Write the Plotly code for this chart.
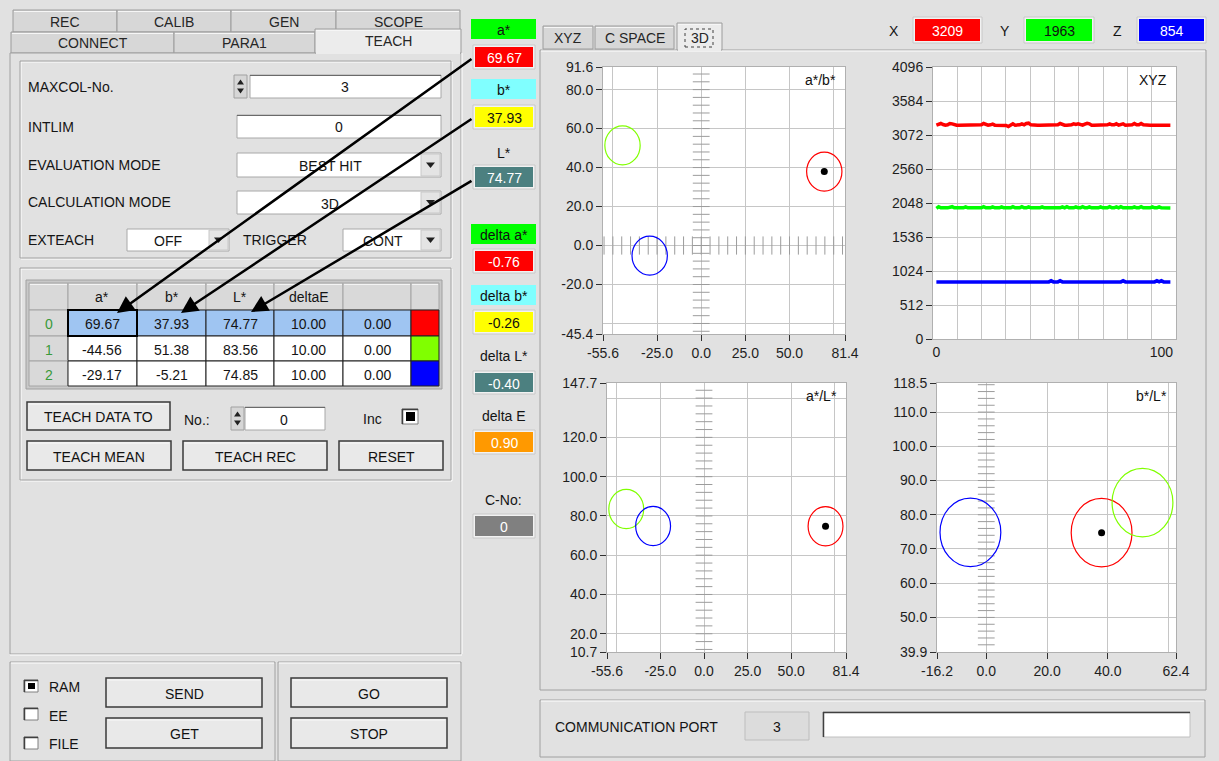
import numpy as np
import plotly.graph_objects as go

W, H = 1219, 761
FONT = "Liberation Sans, Arial, sans-serif"
BG = "#e1e1e1"

# ---------------- data ----------------
teach_no = ["0", "1", "2"]
teach_a = [69.67, -44.56, -29.17]
teach_b = [37.93, 51.38, -5.21]
teach_L = [74.77, 83.56, 74.85]
teach_dE = [10.00, 10.00, 10.00]
teach_extra = [0.00, 0.00, 0.00]
teach_colors = ["#ff0000", "#80ff00", "#0000ff"]
table_headers = ["", "a*", "b*", "L*", "deltaE", "", ""]

cur_a, cur_b, cur_L = 69.67, 37.93, 74.77
delta_a, delta_b, delta_L, delta_E = -0.76, -0.26, -0.40, 0.90
c_no = 0
X_now, Y_now, Z_now = 3209, 1963, 854

xyz_X = [3220, 3240, 3245, 3230, 3220, 3225, 3245, 3240, 3225, 3220,
         3220, 3220, 3220, 3220, 3220, 3220, 3220, 3220, 3220, 3220,
         3225, 3245, 3225, 3220, 3225, 3235, 3220, 3220, 3220, 3220,
         3220, 3215, 3200, 3220, 3240, 3220, 3220, 3225, 3240, 3225,
         3245, 3250, 3225, 3220, 3220, 3220, 3220, 3220, 3220, 3220,
         3220, 3220, 3220, 3220, 3225, 3245, 3225, 3220, 3220, 3220,
         3225, 3240, 3230, 3240, 3225, 3220, 3235, 3248, 3240, 3220,
         3220, 3220, 3220, 3220, 3220, 3220, 3225, 3240, 3225, 3225,
         3240, 3220, 3225, 3240, 3220, 3220, 3220, 3225, 3245, 3225,
         3225, 3245, 3225, 3220, 3220, 3220, 3220, 3220, 3220, 3220,
         3220, 3215, 3220, 3220, 3220]
xyz_Y = [1968, 1992, 1975, 1970, 1975, 1975, 1990, 1992, 1975, 1975,
         1975, 1975, 1975, 1990, 1975, 1975, 1975, 1975, 1975, 1975,
         1975, 1992, 1975, 1975, 1975, 1990, 1975, 1975, 1975, 1990,
         1975, 1975, 1975, 1975, 1992, 1975, 1975, 1975, 1992, 1975,
         1975, 1990, 1975, 1975, 1975, 1975, 1975, 1990, 1975, 1975,
         1975, 1975, 1975, 1975, 1975, 1975, 1990, 1975, 1992, 1975,
         1975, 1975, 1990, 1975, 1975, 1992, 1975, 1975, 1990, 1975,
         1975, 1975, 1975, 1990, 1975, 1975, 1975, 1992, 1975, 1975,
         1990, 1975, 1992, 1975, 1975, 1975, 1975, 1975, 1990, 1975,
         1975, 1992, 1975, 1975, 1975, 1975, 1990, 1975, 1975, 1990,
         1975, 1975, 1975, 1975, 1972]
xyz_Z = [860, 860, 860, 860, 860, 860, 860, 860, 860, 860,
         860, 860, 860, 860, 860, 860, 860, 860, 860, 860,
         860, 860, 860, 860, 860, 860, 860, 860, 860, 860,
         860, 860, 860, 860, 860, 860, 860, 860, 860, 860,
         860, 860, 860, 860, 860, 860, 860, 860, 860, 860,
         860, 878, 860, 860, 860, 878, 860, 860, 860, 860,
         860, 860, 860, 860, 860, 860, 860, 860, 860, 860,
         860, 860, 860, 860, 860, 860, 860, 860, 860, 860,
         860, 860, 860, 878, 860, 860, 860, 860, 860, 860,
         860, 860, 860, 860, 860, 860, 860, 860, 878, 860,
         878, 860, 860, 860, 860]
xyz_idx = list(range(len(xyz_X)))

ab_xrange = [-55.6, 81.4]
ab_yrange = [-45.4, 91.6]
ab_xticks = [-55.6, -25.0, 0.0, 25.0, 50.0, 81.4]
ab_xgrid = [-50, -25, 0, 25, 50, 75]
ab_yticks = [-45.4, -20.0, 0.0, 20.0, 40.0, 60.0, 80.0, 91.6]
ab_ygrid = [-40, -20, 0, 20, 40, 60, 80]

aL_xrange = [-55.6, 81.4]
aL_yrange = [10.7, 147.7]
aL_xticks = [-55.6, -25.0, 0.0, 25.0, 50.0, 81.4]
aL_xgrid = [-50, -25, 0, 25, 50, 75]
aL_yticks = [10.7, 20.0, 40.0, 60.0, 80.0, 100.0, 120.0, 147.7]
aL_ygrid = [20, 40, 60, 80, 100, 120, 140]

bL_xrange = [-16.2, 62.4]
bL_yrange = [39.9, 118.5]
bL_xticks = [-16.2, 0.0, 20.0, 40.0, 62.4]
bL_xgrid = [0, 20, 40, 60]
bL_yticks = [39.9, 50.0, 60.0, 70.0, 80.0, 90.0, 100.0, 110.0, 118.5]
bL_ygrid = [50, 60, 70, 80, 90, 100, 110]

xyz_xrange = [-1.5, 106.5]
xyz_xticks = [0, 100]
xyz_yrange = [0, 4096]
xyz_yticks = [0, 512, 1024, 1536, 2048, 2560, 3072, 3584, 4096]


# ---------------- helpers ----------------
def PX(px):
    return px / W


def PY(py):
    return 1 - py / H


shapes = []
annots = []


def rect(x0, y0, x1, y1, fill=None, line=None, lw=1, dash=None):
    ln = dict(color=line if line else "rgba(0,0,0,0)", width=lw if line else 0)
    if dash:
        ln["dash"] = dash
    shapes.append(dict(type="rect", xref="paper", yref="paper",
                       x0=PX(x0), x1=PX(x1), y0=PY(y1), y1=PY(y0),
                       fillcolor=fill if fill else "rgba(0,0,0,0)", line=ln, layer="above"))


def seg(x0, y0, x1, y1, color, lw=1):
    shapes.append(dict(type="line", xref="paper", yref="paper",
                       x0=PX(x0), x1=PX(x1), y0=PY(y0), y1=PY(y1),
                       line=dict(color=color, width=lw), layer="above"))


def poly(pts, fill):
    p = "M " + " L ".join(f"{PX(x):.5f},{PY(y):.5f}" for x, y in pts) + " Z"
    shapes.append(dict(type="path", xref="paper", yref="paper", path=p,
                       fillcolor=fill, line=dict(width=0), layer="above"))


def text(x, y, s, anchor="center", size=14, color="#141414"):
    if anchor == "left":
        x -= 2
    annots.append(dict(x=PX(x), y=PY(y), xref="paper", yref="paper", text=s,
                       showarrow=False, xanchor=anchor, yanchor="middle",
                       font=dict(family=FONT, size=size, color=color)))


def etched(x0, y0, x1, y1):
    rect(x0 + 1, y0 + 1, x1 + 1, y1 + 1, line="#ffffff")
    rect(x0, y0, x1, y1, line="#a0a0a0")


def button(x0, y0, x1, y1, label):
    rect(x0, y0, x1, y1, fill="#e9e9e9", line="#3a3a3a", lw=1.5)
    seg(x0 + 2, y0 + 2, x1 - 2, y0 + 2, "#fafafa", 1)
    text((x0 + x1) / 2, (y0 + y1) / 2 + 1, label, size=14, color="#111111")


def textbox(x0, y0, x1, y1, val, cx=None):
    rect(x0, y0, x1, y1, fill="#ffffff", line="#a8a8a8")
    seg(x0, y0 + 0.5, x1, y0 + 0.5, "#6a6a6a", 1)
    text(cx if cx else (x0 + x1) / 2, (y0 + y1) / 2 + 1, val)


def spin(x0, y0, x1, y1):
    rect(x0, y0, x1, y1, fill="#d6d6d6", line="#a0a0a0")
    cx = (x0 + x1) / 2
    cy = (y0 + y1) / 2
    poly([(cx - 3.5, cy - 2), (cx + 3.5, cy - 2), (cx, cy - 7)], "#202020")
    poly([(cx - 3.5, cy + 2), (cx + 3.5, cy + 2), (cx, cy + 7)], "#202020")


def dropdown(x0, y0, x1, y1, val, cx):
    rect(x0, y0, x1, y1, fill="#ffffff", line="#a8a8a8")
    rect(x1 - 20, y0 + 1, x1 - 1, y1 - 1, fill="#e4e4e4", line="#c8c8c8")
    bx = x1 - 10.5
    by = (y0 + y1) / 2
    poly([(bx - 4.5, by - 2.5), (bx + 4.5, by - 2.5), (bx, by + 3)], "#202020")
    text(cx, (y0 + y1) / 2 + 1, val)


def checkbox(x0, y0, x1, y1, checked):
    rect(x0, y0, x1, y1, fill="#ffffff", line="#808080")
    seg(x0, y0 + 0.5, x1, y0 + 0.5, "#404040", 1.5)
    seg(x0 + 0.5, y0, x0 + 0.5, y1, "#404040", 1.5)
    if checked:
        rect(x0 + 4, y0 + 3, x1 - 3, y1 - 3, fill="#000000")


def tab(x0, y0, x1, y1, label, selected=False, ty=None):
    fill = "#ececec" if selected else "#d7d7d7"
    rect(x0, y0, x1, y1, fill=fill, line="#9c9c9c")
    seg(x0 + 1, y0 + 1.5, x1 - 1, y0 + 1.5, "#f6f6f6", 1)
    if selected:
        seg(x0 + 1, y1, x1 - 1, y1, fill, 2)
    text((x0 + x1) / 2, ty if ty else (y0 + y1) / 2 + 1, label, color="#262626")


def colorbox(x0, y0, x1, y1, fill, val, tcolor):
    rect(x0 - 2, y0 - 2, x1 + 2, y1 + 2, fill="#f2f2f2", line="#c8c8c8")
    rect(x0, y0, x1, y1, fill=fill)
    text((x0 + x1) / 2, (y0 + y1) / 2 + 1, val, color=tcolor)


# ---------------- GUI: left side ----------------
tab(13, 10, 117, 32, "REC")
tab(117, 10, 231, 32, "CALIB")
tab(231, 10, 336, 32, "GEN")
tab(336, 10, 460, 32, "SCOPE")
tab(11, 32, 174, 53, "CONNECT")
tab(174, 32, 315, 53, "PARA1")
rect(10, 53, 461, 654, fill=BG, line="#a0a0a0")
seg(462, 53, 462, 654, "#ffffff", 1)
seg(10, 655, 462, 655, "#ffffff", 1)
tab(315, 29, 461, 53, "TEACH", selected=True, ty=41)

etched(20, 61, 451, 258)
text(28, 87, "MAXCOL-No.", "left")
spin(234, 75, 247, 98)
textbox(250, 75, 441, 98, "3", cx=345)
text(28, 127, "INTLIM", "left")
textbox(237, 115, 441, 138, "0", cx=339)
text(28, 165, "EVALUATION MODE", "left")
dropdown(237, 153, 441, 177, "BEST HIT", 330)
text(28, 202, "CALCULATION MODE", "left")
dropdown(237, 191, 441, 214, "3D", 330)
text(28, 240, "EXTEACH", "left")
dropdown(127, 229, 229, 251, "OFF", 168)
text(243, 240, "TRIGGER", "left")
dropdown(343, 229, 441, 251, "CONT", 383)

etched(20, 268, 451, 480)

col_edges = [29, 68, 137, 206, 274, 343, 411, 439]
row_edges = [283, 310, 336, 361, 386]
rect(26, 280, 442, 389, fill="#c8c8c8", line="#a0a0a0")
for ci in range(len(col_edges) - 1):
    x0, x1 = col_edges[ci], col_edges[ci + 1]
    rect(x0, row_edges[0], x1, row_edges[1], fill="#d9d9d9", line="#a4a4a4")
    seg(x0 + 1, row_edges[0] + 1.5, x1 - 1, row_edges[0] + 1.5, "#f4f4f4", 1)
    if table_headers[ci]:
        text((x0 + x1) / 2, (row_edges[0] + row_edges[1]) / 2 + 1, table_headers[ci])
for ri in range(len(teach_a)):
    y0, y1 = row_edges[ri + 1], row_edges[ri + 2]
    cy = (y0 + y1) / 2 + 1
    rect(col_edges[0], y0, col_edges[1], y1, fill="#d9d9d9", line="#a4a4a4")
    text((col_edges[0] + col_edges[1]) / 2, cy, teach_no[ri], color="#3a9a3a")
    vals = [teach_a[ri], teach_b[ri], teach_L[ri], teach_dE[ri], teach_extra[ri]]
    cell_fill = "#9fc5f2" if ri == 0 else "#ffffff"
    for ci, v in enumerate(vals):
        x0, x1 = col_edges[ci + 1], col_edges[ci + 2]
        rect(x0, y0, x1, y1, fill=cell_fill, line="#202020")
        text((x0 + x1) / 2, cy, f"{v:.2f}")
    rect(col_edges[6], y0, col_edges[7], y1, fill=teach_colors[ri], line="#202020")
rect(col_edges[1], row_edges[1], col_edges[2], row_edges[2], line="#000000", lw=2)

button(27, 402, 170, 430, "TEACH DATA TO")
text(184, 420, "No.:", "left")
spin(231, 407, 244, 430)
textbox(245, 407, 325, 430, "0", cx=284)
text(372, 419, "Inc")
checkbox(402, 409, 418, 424, True)
button(27, 441, 171, 470, "TEACH MEAN")
button(183, 441, 327, 470, "TEACH REC")
button(339, 441, 443, 470, "RESET")

rect(10, 662, 275, 761, line="#a0a0a0")
seg(11, 663, 274, 663, "#ffffff", 1)
rect(278, 662, 461, 761, line="#a0a0a0")
seg(279, 663, 460, 663, "#ffffff", 1)
checkbox(24, 680, 38, 692, True)
text(49, 687, "RAM", "left")
checkbox(24, 708, 38, 720, False)
text(49, 716, "EE", "left")
checkbox(24, 737, 38, 749, False)
text(49, 744, "FILE", "left")
button(106, 678, 262, 707, "SEND")
button(106, 718, 262, 748, "GET")
button(291, 678, 447, 707, "GO")
button(291, 718, 447, 748, "STOP")


# ---------------- middle column ----------------
def label_box(y0, y1, fill, s):
    rect(471, y0, 536, y1, fill=fill)
    text(503.5, (y0 + y1) / 2 + 1, s, color="#111111")


label_box(19, 39, "#00ff00", "a*")
colorbox(475, 47, 533, 67, "#ff0000", f"{cur_a:.2f}", "#ffffff")
label_box(79, 99, "#80ffff", "b*")
colorbox(475, 107, 533, 127, "#ffff00", f"{cur_b:.2f}", "#111111")
text(503.5, 153, "L*")
colorbox(475, 167, 533, 187, "#4c8080", f"{cur_L:.2f}", "#ffffff")
label_box(224, 244, "#00ff00", "delta a*")
colorbox(475, 251, 533, 271, "#ff0000", f"{delta_a:.2f}", "#ffffff")
label_box(285, 305, "#80ffff", "delta b*")
colorbox(475, 312, 533, 332, "#ffff00", f"{delta_b:.2f}", "#111111")
text(503.5, 356, "delta L*")
colorbox(475, 373, 533, 392, "#4c8080", f"{delta_L:.2f}", "#ffffff")
text(503.5, 416, "delta E")
colorbox(475, 432, 533, 452, "#ff9900", f"{delta_E:.2f}", "#ffffff")
text(503.5, 500, "C-No:")
colorbox(475, 516, 533, 536, "#808080", f"{c_no}", "#ffffff")

# ---------------- right panel ----------------
tab(543, 26, 593, 49, "XYZ")
tab(595, 26, 674, 49, "C SPACE")
rect(540, 50, 1206, 690, line="#a0a0a0")
seg(541, 51, 1205, 51, "#ffffff", 1)
tab(677, 23, 722, 50, "3D", selected=True, ty=38)
rect(685, 29, 713, 47, line="#404040", dash="dot")

text(894, 31, "X")
colorbox(915, 19, 980, 41, "#ff0000", f"{X_now}", "#ffffff")
text(1005, 31, "Y")
colorbox(1026, 19, 1092, 41, "#00ff00", f"{Y_now}", "#111111")
text(1117, 31, "Z")
colorbox(1139, 19, 1204, 41, "#0000ff", f"{Z_now}", "#ffffff")

rect(540, 700, 1205, 757, line="#a0a0a0")
seg(541, 701, 1204, 701, "#ffffff", 1)
text(555, 727, "COMMUNICATION PORT", "left")
rect(745, 712, 809, 740, fill="#dcdcdc", line="#bdbdbd")
text(777, 727, "3")
rect(823, 712, 1190, 737, fill="#ffffff", line="#c0c0c0")
seg(823, 712.5, 1190, 712.5, "#404040", 1.5)
seg(823.5, 712, 823.5, 737, "#404040", 1.5)

for tip, tail in [((117, 313), (473, 58)), ((181, 313), (473, 118)), ((251, 312), (473, 180))]:
    annots.append(dict(x=PX(tip[0]), y=PY(tip[1]), xref="paper", yref="paper",
                       ax=tail[0] - tip[0], ay=tail[1] - tip[1], axref="pixel", ayref="pixel",
                       text="", showarrow=True, arrowhead=2, arrowsize=1.35,
                       arrowwidth=2.5, arrowcolor="#000000", standoff=0))

# ---------------- plots ----------------
plots = {
    "1": dict(px=(603, 845), py=(67, 334), xr=ab_xrange, yr=ab_yrange,
              xt=ab_xticks, yt=ab_yticks, xg=ab_xgrid, yg=ab_ygrid, title="a*/b*"),
    "2": dict(px=(933, 1176), py=(67, 339), xr=xyz_xrange, yr=xyz_yrange,
              xt=xyz_xticks, yt=xyz_yticks,
              xg=list(np.linspace(xyz_xrange[0], xyz_xrange[1], 11)),
              yg=xyz_yticks[1:-1], title="XYZ"),
    "3": dict(px=(607, 846), py=(383, 652), xr=aL_xrange, yr=aL_yrange,
              xt=aL_xticks, yt=aL_yticks, xg=aL_xgrid, yg=aL_ygrid, title="a*/L*"),
    "4": dict(px=(937, 1176), py=(383, 652), xr=bL_xrange, yr=bL_yrange,
              xt=bL_xticks, yt=bL_yticks, xg=bL_xgrid, yg=bL_ygrid, title="b*/L*"),
}


def fmt(v, intlab):
    return f"{v:.0f}" if intlab else f"{v:.1f}"


layout_axes = {}
for k, p in plots.items():
    sx = "" if k == "1" else k
    intx = k == "2"
    base = dict(showgrid=False, zeroline=False, ticks="outside", ticklen=6, tickwidth=1,
                tickcolor="#303030", showline=True, linecolor="#b0b0b0", linewidth=1,
                mirror=True, fixedrange=True, tickmode="array", automargin=False,
                tickfont=dict(family=FONT, size=14, color="#1e1e1e"))
    xa = dict(base, domain=[PX(p["px"][0]), PX(p["px"][1])], range=p["xr"],
              anchor="y" + sx, tickvals=p["xt"], ticktext=[fmt(v, intx) for v in p["xt"]],
              minor=dict(tickmode="array", tickvals=p["xg"], showgrid=True,
                         gridcolor="#c6c6c6", gridwidth=1, ticks=""))
    if k == "2":
        xa["ticks"] = ""
    ya = dict(base, domain=[PY(p["py"][1]), PY(p["py"][0])], range=p["yr"],
              anchor="x" + sx, tickvals=p["yt"], ticktext=[fmt(v, intx) for v in p["yt"]],
              minor=dict(tickmode="array", tickvals=p["yg"], showgrid=True,
                         gridcolor="#c6c6c6", gridwidth=1, ticks=""))
    layout_axes["xaxis" + sx] = xa
    layout_axes["yaxis" + sx] = ya
    text(p["px"][1] - 7, p["py"][0] + 13, p["title"], "right", color="#111111")

fig = go.Figure()
DASH = "#9c9c9c"


def dashes(xs, ys, sym, size, ax):
    fig.add_trace(go.Scatter(x=xs, y=ys, mode="markers", hoverinfo="skip", showlegend=False,
                             marker=dict(symbol=sym, size=size, color=DASH,
                                         line=dict(width=1, color=DASH)),
                             xaxis="x" + ax, yaxis="y" + ax))


dashes([0] * len(np.arange(-44, 89, 4)), np.arange(-44, 89, 4), "line-ew", 12, "")
dashes(np.arange(-55, 81, 5), [0] * len(np.arange(-55, 81, 5)), "line-ns", 13, "")
dashes([0] * len(np.arange(12, 147, 4)), np.arange(12, 147, 4), "line-ew", 12, "3")
dashes([0] * len(np.arange(42, 119, 2)), np.arange(42, 119, 2), "line-ew", 12, "4")

for series, col in [(xyz_X, "#ff0000"), (xyz_Y, "#00ff00"), (xyz_Z, "#0000ff")]:
    fig.add_trace(go.Scatter(x=xyz_idx, y=series, mode="lines", showlegend=False,
                             line=dict(color=col, width=3.5), xaxis="x2", yaxis="y2",
                             hoverinfo="skip"))

for ax, xs, ys in [("", teach_a, teach_b), ("3", teach_a, teach_L), ("4", teach_b, teach_L)]:
    for cx, cy, r, col in zip(xs, ys, teach_dE, teach_colors):
        shapes.append(dict(type="circle", xref="x" + ax, yref="y" + ax,
                           x0=cx - r, x1=cx + r, y0=cy - r, y1=cy + r,
                           line=dict(color=col, width=1.2), layer="above"))

for ax, xv, yv in [("", cur_a, cur_b), ("3", cur_a, cur_L), ("4", cur_b, cur_L)]:
    fig.add_trace(go.Scatter(x=[xv], y=[yv], mode="markers", showlegend=False,
                             marker=dict(color="#000000", size=7), xaxis="x" + ax,
                             yaxis="y" + ax, hoverinfo="skip"))

fig.update_layout(
    width=W, height=H, margin=dict(l=0, r=0, t=0, b=0, pad=0, autoexpand=False),
    paper_bgcolor=BG, plot_bgcolor="#ffffff", showlegend=False,
    shapes=shapes, annotations=annots, font=dict(family=FONT, size=14),
    **layout_axes,
)

fig.write_html("out.html", config={"displayModeBar": False},
               post_script="document.body.style.margin='0';document.body.style.overflow='hidden';")
